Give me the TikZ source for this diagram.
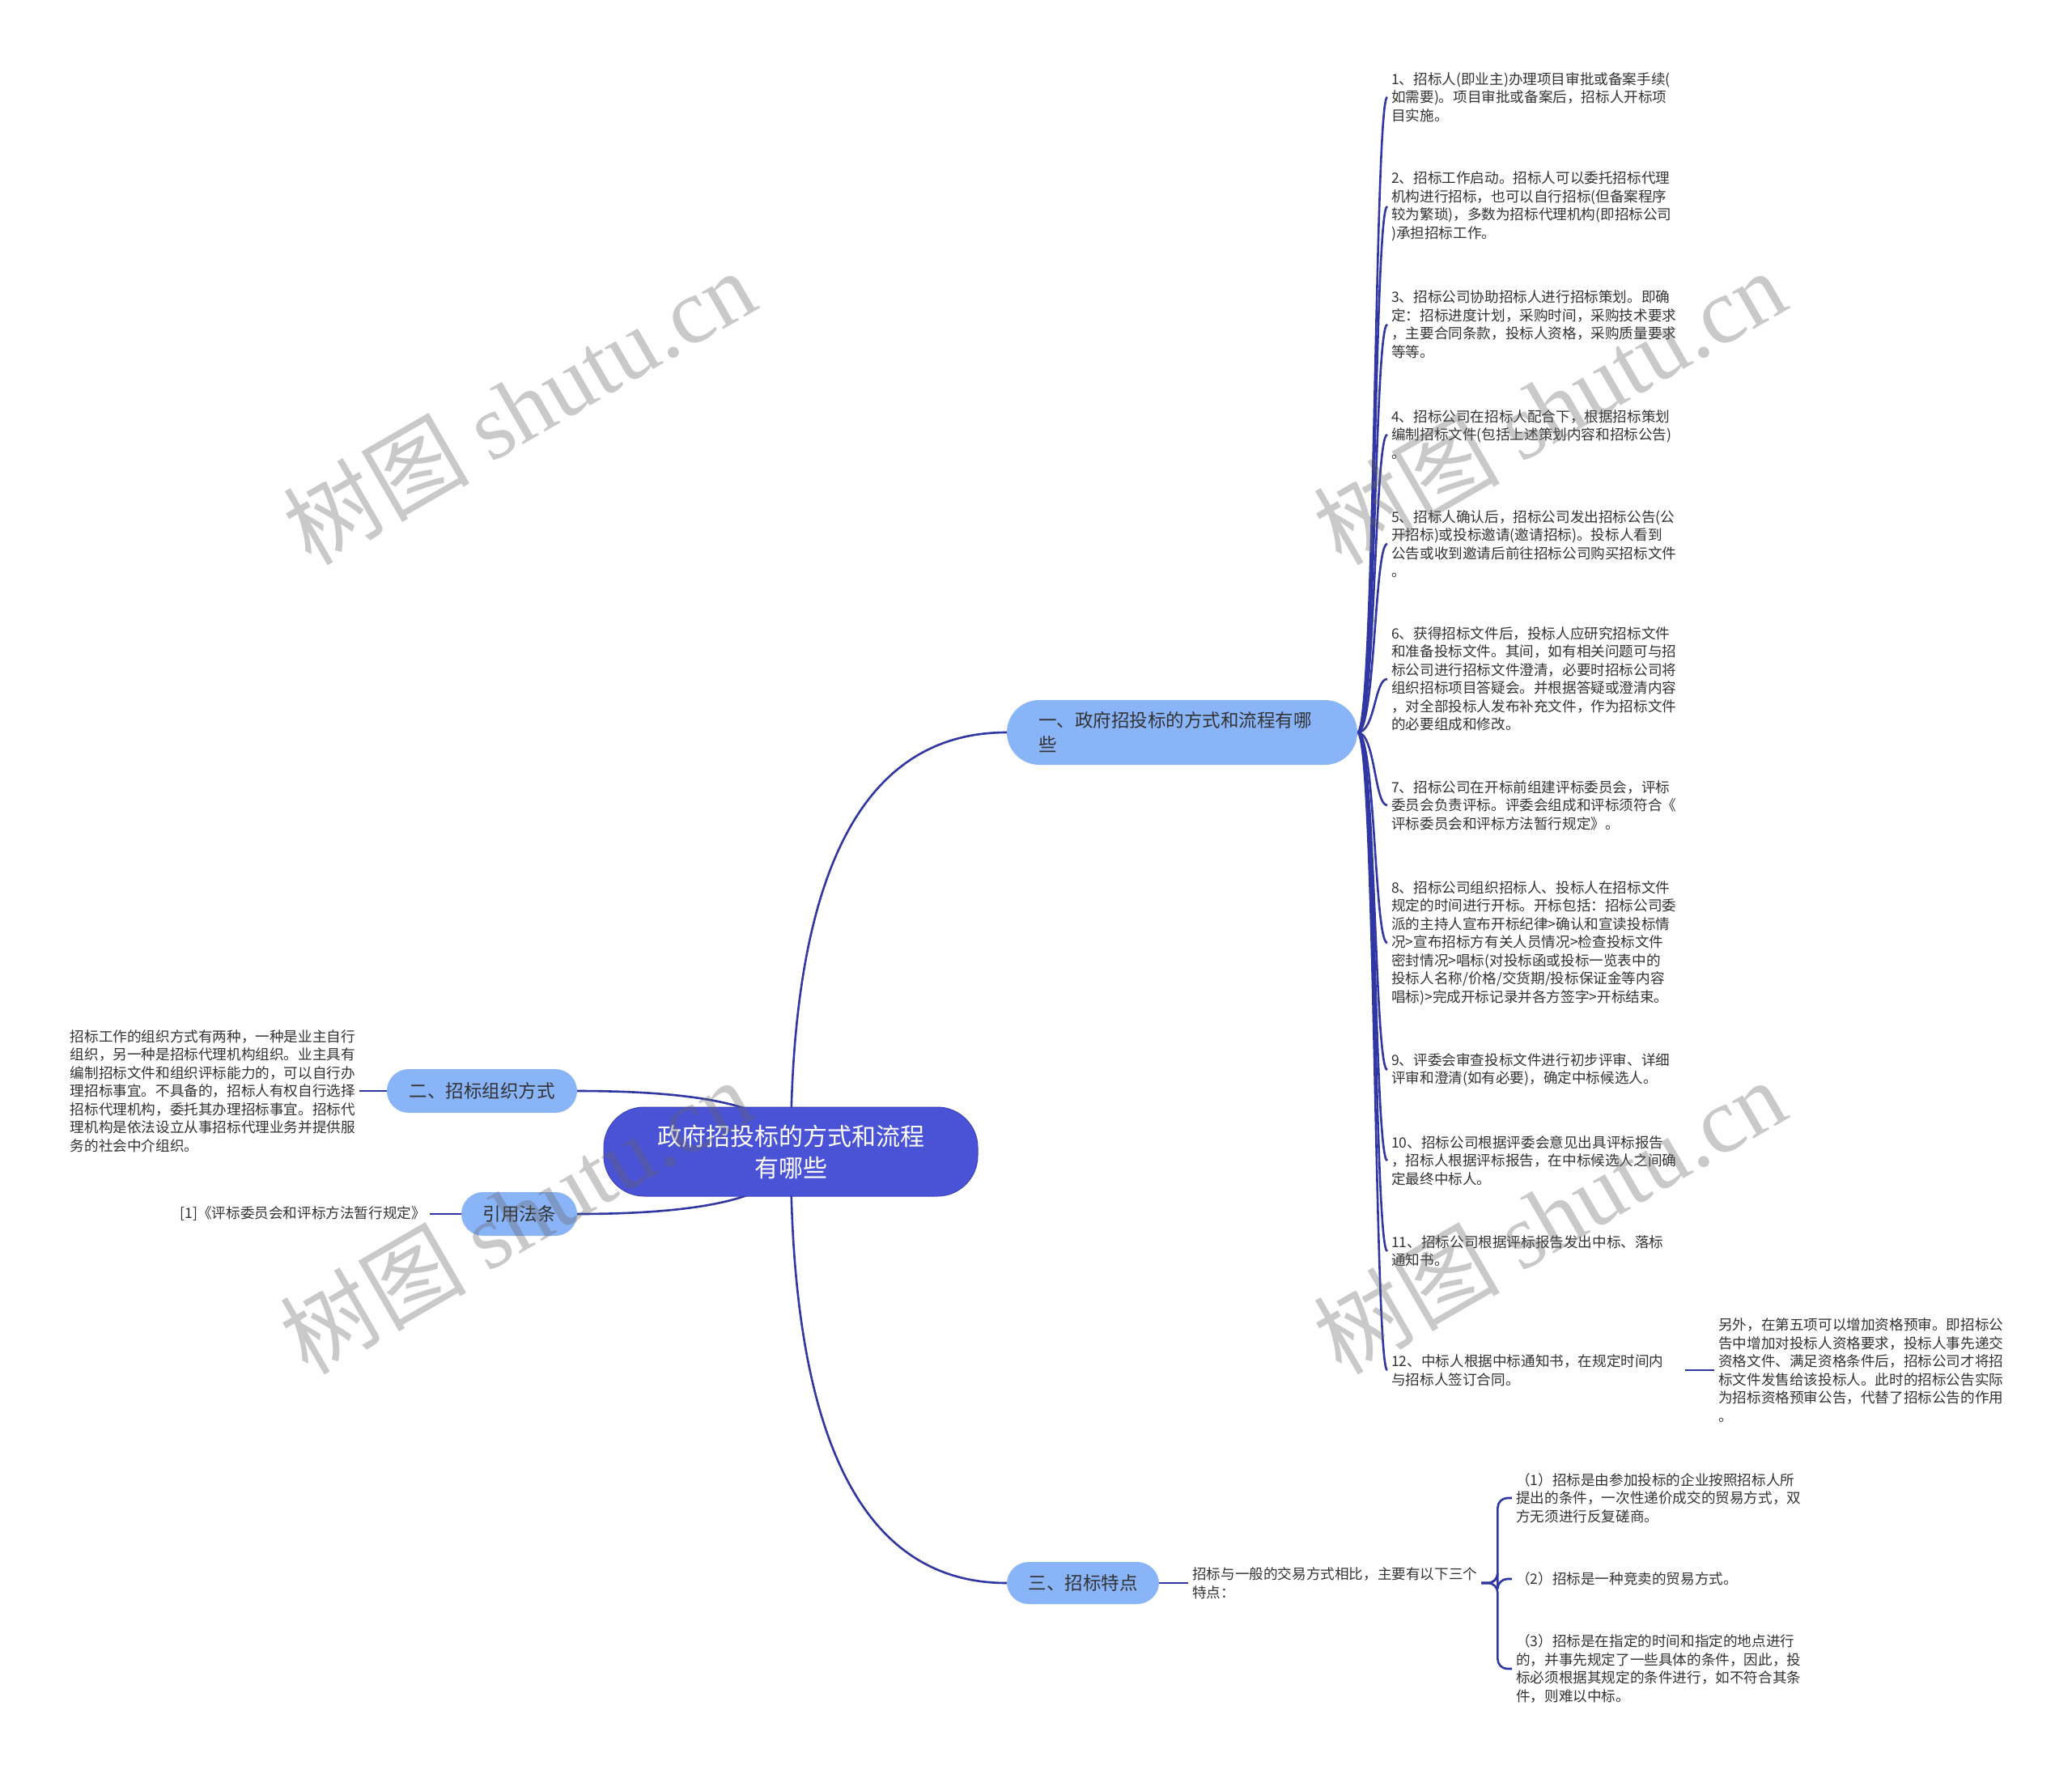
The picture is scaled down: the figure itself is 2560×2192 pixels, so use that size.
\documentclass[tikz,border=0pt]{standalone}
\usepackage{fontspec}
\setmainfont{Noto Sans CJK SC}
\newfontfamily\wmserif{Liberation Serif}
\usetikzlibrary{calc}
\definecolor{rootblue}{RGB}{74,82,214}
\definecolor{rootedge}{RGB}{60,66,190}
\definecolor{branchblue}{RGB}{138,180,248}
\definecolor{linecol}{RGB}{48,55,163}
\definecolor{txt}{RGB}{51,51,51}
\pgfdeclarelayer{bg}
\pgfdeclarelayer{lines}
\pgfsetlayers{bg,lines,main}
\tikzset{
  conn/.style={draw=linecol, line width=2.6},
  rootnode/.style={fill=rootblue, draw=rootedge, line width=1, rounded corners=50,
    minimum width=462, minimum height=110, text=white,
    font=\fontsize{30}{39}\selectfont, align=center, inner sep=0},
  branch/.style={fill=branchblue, rounded corners=27, text=txt,
    font=\fontsize{22.5}{30}\selectfont, inner sep=0, minimum height=54},
  leaf/.style={text=txt, font=\fontsize{17.6}{22.5}\selectfont, align=left,
    inner xsep=5, inner ysep=3},
  rleaf/.style={leaf, anchor=west, text width=358},
  wm/.style={text=black!60, text opacity=0.35, font=\fontsize{115}{120}\selectfont,
    rotate=30, inner sep=0}
}
\begin{document}
\begin{tikzpicture}[x=1pt,y=-1pt]
\begin{pgfonlayer}{bg}
\fill[white] (0,0) rectangle (2560,2192);
\end{pgfonlayer}
\useasboundingbox (0,0) rectangle (2560,2192);

% root and main branches
\node[rootnode] (root) at (977,1423) {政府招投标的方式和流程\\有哪些};
\node[branch, minimum width=433, minimum height=80, rounded corners=40,
  text width=355, align=left, inner xsep=39] (b1) at (1460.5,905)
  {一、政府招投标的方式和流程有哪\\些};
\node[branch, minimum width=235] (b2) at (595.5,1348) {二、招标组织方式};
\node[branch, minimum width=143] (b3) at (641.5,1500) {引用法条};
\node[branch, minimum width=188, minimum height=52] (b4) at (1338,1956) {三、招标特点};

% right items
\node[rleaf] (i1) at (1714,120) {1、招标人(即业主)办理项目审批或备案手续(\\如需要)。项目审批或备案后，招标人开标项\\目实施。};
\node[rleaf] (i2) at (1714,255) {2、招标工作启动。招标人可以委托招标代理\\机构进行招标，也可以自行招标(但备案程序\\较为繁琐)，多数为招标代理机构(即招标公司\\)承担招标工作。};
\node[rleaf] (i3) at (1714,401) {3、招标公司协助招标人进行招标策划。即确\\定：招标进度计划，采购时间，采购技术要求\\，主要合同条款，投标人资格，采购质量要求\\等等。};
\node[rleaf] (i4) at (1714,537) {4、招标公司在招标人配合下，根据招标策划\\编制招标文件(包括上述策划内容和招标公告)\\。};
\node[rleaf] (i5) at (1714,672) {5、招标人确认后，招标公司发出招标公告(公\\开招标)或投标邀请(邀请招标)。投标人看到\\公告或收到邀请后前往招标公司购买招标文件\\。};
\node[rleaf] (i6) at (1714,839) {6、获得招标文件后，投标人应研究招标文件\\和准备投标文件。其间，如有相关问题可与招\\标公司进行招标文件澄清，必要时招标公司将\\组织招标项目答疑会。并根据答疑或澄清内容\\，对全部投标人发布补充文件，作为招标文件\\的必要组成和修改。};
\node[rleaf] (i7) at (1714,995) {7、招标公司在开标前组建评标委员会，评标\\委员会负责评标。评委会组成和评标须符合《\\评标委员会和评标方法暂行规定》。};
\node[rleaf] (i8) at (1714,1165) {8、招标公司组织招标人、投标人在招标文件\\规定的时间进行开标。开标包括：招标公司委\\派的主持人宣布开标纪律>确认和宣读投标情\\况>宣布招标方有关人员情况>检查投标文件\\密封情况>唱标(对投标函或投标一览表中的\\投标人名称/价格/交货期/投标保证金等内容\\唱标)>完成开标记录并各方签字>开标结束。};
\node[rleaf] (i9) at (1714,1322) {9、评委会审查投标文件进行初步评审、详细\\评审和澄清(如有必要)，确定中标候选人。};
\node[rleaf] (i10) at (1714,1434) {10、招标公司根据评委会意见出具评标报告\\，招标人根据评标报告，在中标候选人之间确\\定最终中标人。};
\node[rleaf] (i11) at (1714,1546) {11、招标公司根据评标报告发出中标、落标\\通知书。};
\node[rleaf] (i12) at (1714,1693) {12、中标人根据中标通知书，在规定时间内\\与招标人签订合同。};
\node[rleaf] (i12a) at (2118,1693) {另外，在第五项可以增加资格预审。即招标公\\告中增加对投标人资格要求，投标人事先递交\\资格文件、满足资格条件后，招标公司才将招\\标文件发售给该投标人。此时的招标公告实际\\为招标资格预审公告，代替了招标公告的作用\\。};

% left items
\node[leaf, anchor=east, text width=352] (l2) at (444,1348) {招标工作的组织方式有两种，一种是业主自行\\组织，另一种是招标代理机构组织。业主具有\\编制招标文件和组织评标能力的，可以自行办\\理招标事宜。不具备的，招标人有权自行选择\\招标代理机构，委托其办理招标事宜。招标代\\理机构是依法设立从事招标代理业务并提供服\\务的社会中介组织。};
\node[leaf, anchor=east] (cite) at (531,1500) {[1]《评标委员会和评标方法暂行规定》};

% bottom items
\node[leaf, anchor=west, text width=352] (t3) at (1468,1956) {招标与一般的交易方式相比，主要有以下三个\\特点：};
\node[rleaf] (c1) at (1868,1851) {（1）招标是由参加投标的企业按照招标人所\\提出的条件，一次性递价成交的贸易方式，双\\方无须进行反复磋商。};
\node[rleaf] (c2) at (1868,1951) {（2）招标是一种竞卖的贸易方式。};
\node[rleaf] (c3) at (1868,2062) {（3）招标是在指定的时间和指定的地点进行\\的，并事先规定了一些具体的条件，因此，投\\标必须根据其规定的条件进行，如不符合其条\\件，则难以中标。};

% connectors
\begin{pgfonlayer}{lines}
\coordinate (k1) at (root.center |- b1.west);
\coordinate (k2) at (root.center |- b2.east);
\coordinate (k3) at (root.center |- b3.east);
\coordinate (k4) at (root.center |- b4.west);
\draw[conn] (root.center) .. controls ($(root.center)!0.667!(k1)$) and ($(b1.west)!0.667!(k1)$) .. (b1.west);
\draw[conn] (root.center) .. controls ($(root.center)!0.667!(k2)$) and ($(b2.east)!0.667!(k2)$) .. (b2.east);
\draw[conn] (root.center) .. controls ($(root.center)!0.667!(k3)$) and ($(b3.east)!0.667!(k3)$) .. (b3.east);
\draw[conn] (root.center) .. controls ($(root.center)!0.667!(k4)$) and ($(b4.west)!0.667!(k4)$) .. (b4.west);
\foreach \i in {i1,i2,i3,i4,i5,i6,i7,i8,i9,i10,i11,i12}{
  \draw[conn] (b1.east) .. controls ($(b1.east)+(22,0)$) and ($(\i.west)+(-16,0)$) .. (\i.west);
}
\draw[conn] (i12.east) -- (i12a.west);
\draw[conn] (b2.west) -- (l2.east);
\draw[conn] (b3.west) -- (cite.east);
\draw[conn] (b4.east) -- (t3.west);
\foreach \c in {c1,c2,c3}{
  \draw[conn, rounded corners=12] (t3.east) -- ++(20,0) |- (\c.west);
}
\end{pgfonlayer}

% watermarks
\node[wm] (w1) at (641,502) {树图 {\wmserif shutu.cn}};
\node[wm] (w2) at (1914,502) {树图 {\wmserif shutu.cn}};
\node[wm] (w3) at (637,1502) {树图 {\wmserif shutu.cn}};
\node[wm] (w4) at (1914,1502) {树图 {\wmserif shutu.cn}};
\end{tikzpicture}
\end{document}
